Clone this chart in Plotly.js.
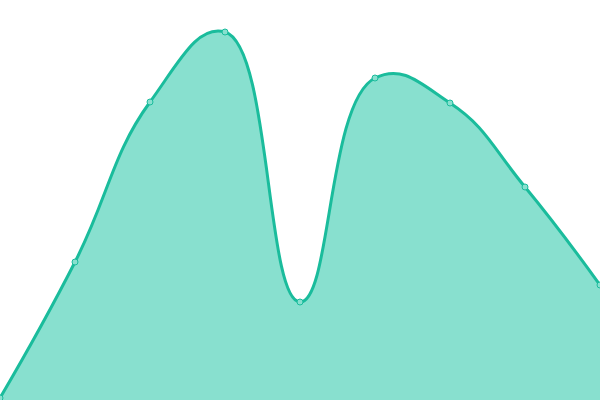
<!DOCTYPE html>
<html>
<head>
<meta charset="utf-8">
<script src="https://cdn.plot.ly/plotly-3.0.1.min.js"></script>
<style>
  html, body { margin: 0; padding: 0; background: #ffffff; }
  #chart { width: 600px; height: 400px; }
</style>
</head>
<body>
<div id="chart"></div>
<script>
// values, bottom of the plot is 0
const xs = [0, 1, 2, 3, 4, 5, 6, 7, 8];
const values = [2, 138, 298, 368, 98, 322, 297, 213, 115];

const lineColor = '#1abc9c';
const fillColor = '#88e0cf';

const trace = {
	x: xs,
	y: values,
	mode: 'lines+markers',
	type: 'scatter',
	fill: 'tozeroy',
	fillcolor: fillColor,
	line: { color: lineColor, width: 3, shape: 'spline', smoothing: 1.3 },
	marker: { size: 6, color: fillColor, line: { color: lineColor, width: 1 } },
	cliponaxis: false,
};

const layout = {
	width: 600, height: 400,
	margin: { l: 0, r: 0, t: 0, b: 0 },
	paper_bgcolor: '#ffffff',
	plot_bgcolor: '#ffffff',
	showlegend: false,
	xaxis: { range: [0, 8], visible: false, showgrid: false, zeroline: false, fixedrange: true },
	yaxis: { range: [0, 400], visible: false, showgrid: false, zeroline: false, fixedrange: true },
};

Plotly.newPlot('chart', [trace], layout, { displayModeBar: false, staticPlot: true });
</script>
</body>
</html>
